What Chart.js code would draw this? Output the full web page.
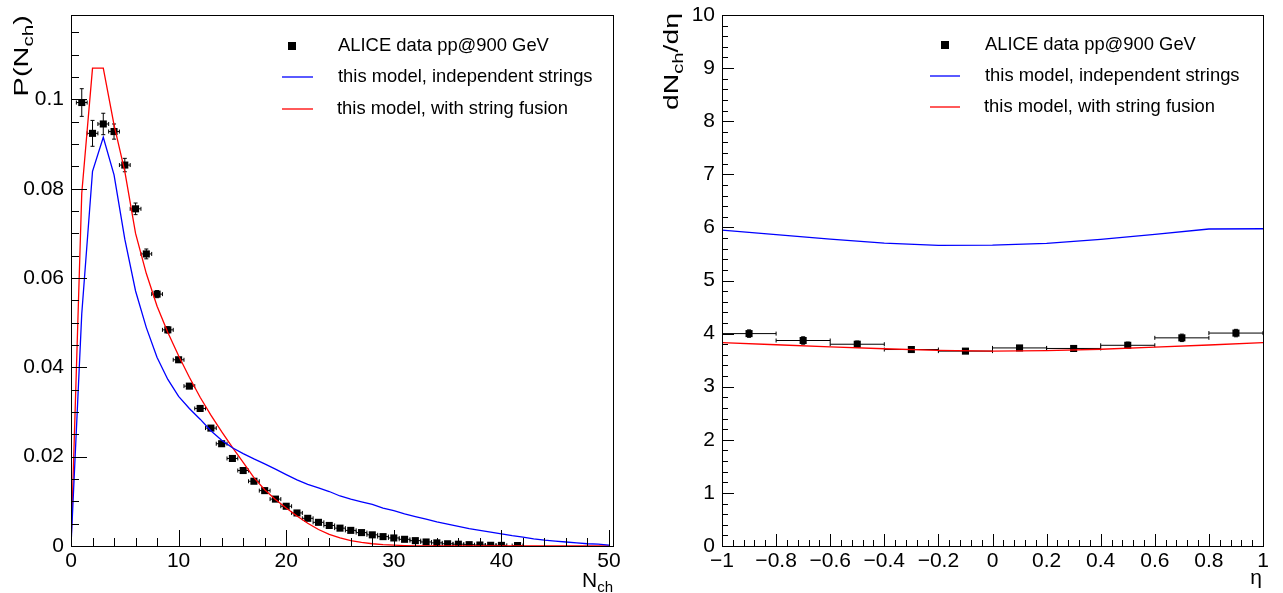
<!DOCTYPE html>
<html><head><meta charset="utf-8">
<script src="https://cdn.jsdelivr.net/npm/chart.js@4.4.1/dist/chart.umd.min.js"></script>
<style>
html,body{margin:0;padding:0;background:#fff;overflow:hidden;}
#cl{position:absolute;left:0;top:0;}
#cr{position:absolute;left:641px;top:0;}
</style></head><body>
<canvas id="cl" width="641" height="593"></canvas>
<canvas id="cr" width="642" height="593"></canvas>
<script>
const FONT = '"Liberation Sans", Arial, Helvetica, sans-serif';

// ---------- Left panel: multiplicity distribution ----------
const multN = [1,2,3,4,5,6,7,8,9,10,11,12,13,14,15,16,17,18,19,20,21,22,23,24,25,26,27,28,29,30,31,32,33,34,35,36,37,38,39,40,41.5];
const multP = [0.0993,0.0924,0.0945,0.0928,0.0853,0.0755,0.0654,0.0564,0.0484,0.0417,0.0358,0.0308,0.0264,0.0229,0.0196,0.0169,0.0145,0.0124,0.0105,0.0089,0.0074,0.0062,0.0053,0.0046,0.0040,0.0035,0.0030,0.0025,0.0021,0.0018,0.0015,0.0012,0.0009,0.0007,0.0005,0.0004,0.0003,0.00022,0.00016,0.00014,0.0001];
const multErrY = [0.0031,0.0029,0.0024,0.0017,0.0015,0.0013,0.0011,0.0008,0.0007,0.0006,0.0005,0.0005,0.0004,0.0004,0.0003,0.0003,0.0003,0.0003,0.0002,0.0002,0.0002,0.0002,0.0002,0.0002,0.0002,0.0002,0.0001,0.0001,0.0001,0.0001,0.0001,0.0001,0.0001,0.0001,0.0001,0.0001,0.0001,0.0001,0.0001,0.0001,0.0001];
const multErrX = [0.5,0.5,0.5,0.5,0.5,0.5,0.5,0.5,0.5,0.5,0.5,0.5,0.5,0.5,0.5,0.5,0.5,0.5,0.5,0.5,0.5,0.5,0.5,0.5,0.5,0.5,0.5,0.5,0.5,0.5,0.5,0.5,0.5,0.5,0.5,0.5,0.5,0.5,0.5,0.5,0.5];

const modelN = [0,1,2,3,4,5,6,7,8,9,10,11,12,13,14,15,16,17,18,19,20,21,22,23,24,25,26,27,28,29,30,31,32,33,34,35,36,37,38,39,40,41,42,43,44,45,46,47,48,49,50];
const indepP = [0,0.052,0.0839,0.0915,0.0831,0.0687,0.0571,0.0489,0.0422,0.0373,0.0335,0.0308,0.0284,0.0258,0.0237,0.0220,0.0207,0.0195,0.0184,0.0172,0.0160,0.0148,0.0138,0.0130,0.0122,0.0112,0.0105,0.0099,0.0093,0.0085,0.0079,0.0072,0.0066,0.0060,0.0054,0.0049,0.0044,0.0039,0.0035,0.0031,0.0027,0.0023,0.0020,0.0016,0.0013,0.0011,0.0009,0.0007,0.0005,0.0004,0.0002];
const fusionP = [0,0.079,0.107,0.107,0.0943,0.0839,0.0700,0.0610,0.0537,0.0478,0.0426,0.0378,0.0333,0.0293,0.0256,0.0221,0.0187,0.0153,0.0126,0.0104,0.0085,0.0067,0.0051,0.0037,0.0026,0.0018,0.0012,0.0008,0.0005,0.0003,0.0002,0.0001,0.00005,0,0,0,0,0,0,0,0,0,0,0,0,0,0,0,0,0,0];

const leftXTicks = [0,10,20,30,40,50];
const leftXLabels = ['0','10','20','30','40','50'];
const leftYTicks = [0,0.02,0.04,0.06,0.08,0.1];
const leftYLabels = ['0','0.02','0.04','0.06','0.08','0.1'];

// ---------- Right panel: pseudorapidity density ----------
const etaPts = [-0.9,-0.7,-0.5,-0.3,-0.1,0.1,0.3,0.5,0.7,0.9];
const dndeta = [4.00,3.87,3.80,3.70,3.67,3.73,3.72,3.78,3.92,4.01];
const dndetaErrY = [0.07,0.07,0.06,0.05,0.05,0.05,0.05,0.06,0.07,0.07];
const etaErrX = [0.1,0.1,0.1,0.1,0.1,0.1,0.1,0.1,0.1,0.1];

const modelEta = [-1,-0.8,-0.6,-0.4,-0.2,0,0.2,0.4,0.6,0.8,1];
const indepEta = [5.95,5.865,5.78,5.705,5.66,5.665,5.70,5.775,5.87,5.97,5.975];
const fusionEta = [3.83,3.79,3.75,3.715,3.685,3.67,3.68,3.705,3.745,3.785,3.83];

const rightXTicks = [-1,-0.8,-0.6,-0.4,-0.2,0,0.2,0.4,0.6,0.8,1];
const rightXLabels = ['\u22121','\u22120.8','\u22120.6','\u22120.4','\u22120.2','0','0.2','0.4','0.6','0.8','1'];
const rightYTicks = [0,1,2,3,4,5,6,7,8,9,10];
const rightYLabels = ['0','1','2','3','4','5','6','7','8','9','10'];

const legendLabels = ['ALICE data pp@900 GeV','this model, independent strings','this model, with string fusion'];

function pts(xs, ys){ return xs.map((x,i)=>({x:x, y:ys[i]})); }

const rootPlugin = {
  id: 'rootdeco',
  beforeDatasetsDraw(chart) {
    const ctx = chart.ctx, xs = chart.scales.x, ys = chart.scales.y, a = chart.chartArea;
    ctx.save();
    ctx.beginPath(); ctx.rect(a.left, a.top, a.right-a.left, a.bottom-a.top); ctx.clip();
    ctx.strokeStyle = '#000'; ctx.lineWidth = 1;
    chart.data.datasets.forEach(ds => {
      if (!ds.errY) return;
      ds.data.forEach((p, i) => {
        const px = xs.getPixelForValue(p.x), py = ys.getPixelForValue(p.y);
        const x1 = xs.getPixelForValue(p.x - ds.errX[i]), x2 = xs.getPixelForValue(p.x + ds.errX[i]);
        const y1 = ys.getPixelForValue(p.y - ds.errY[i]), y2 = ys.getPixelForValue(p.y + ds.errY[i]);
        ctx.beginPath();
        ctx.moveTo(x1, py); ctx.lineTo(x2, py);
        ctx.moveTo(x1, py-2); ctx.lineTo(x1, py+2);
        ctx.moveTo(x2, py-2); ctx.lineTo(x2, py+2);
        ctx.moveTo(px, y1); ctx.lineTo(px, y2);
        if (Math.abs(y1-y2) > 6) {
          ctx.moveTo(px-2, y1); ctx.lineTo(px+2, y1);
          ctx.moveTo(px-2, y2); ctx.lineTo(px+2, y2);
        }
        ctx.stroke();
      });
    });
    ctx.restore();
  },
  afterDraw(chart) {
    const c = chart.options.plugins.rootdeco;
    const ctx = chart.ctx, xs = chart.scales.x, ys = chart.scales.y, a = chart.chartArea;
    ctx.save();
    ctx.strokeStyle = '#000'; ctx.lineWidth = 1;
    // frame
    ctx.strokeRect(Math.round(a.left)+0.5, Math.round(a.top)+0.5, Math.round(a.right-a.left), Math.round(a.bottom-a.top));
    // ticks
    ctx.beginPath();
    const isMajor = (v, m) => Math.abs(v/m - Math.round(v/m)) < 1e-6;
    for (let k = Math.ceil(xs.min/c.xMinor - 1e-9); k*c.xMinor <= xs.max + 1e-9; k++) {
      const v = k*c.xMinor, px = Math.round(xs.getPixelForValue(v)) + 0.5;
      const len = isMajor(v, c.xMajor) ? c.majLen : c.minLen;
      ctx.moveTo(px, a.bottom); ctx.lineTo(px, a.bottom - len);
    }
    for (let k = Math.ceil(ys.min/c.yMinor - 1e-9); k*c.yMinor <= ys.max + 1e-9; k++) {
      const v = k*c.yMinor, py = Math.round(ys.getPixelForValue(v)) + 0.5;
      const len = isMajor(v, c.yMajor) ? c.majLen : c.minLen;
      ctx.moveTo(a.left, py); ctx.lineTo(a.left + len, py);
    }
    ctx.stroke();
    // legend
    ctx.fillStyle = '#000';
    ctx.textBaseline = 'middle'; ctx.textAlign = 'left';
    ctx.font = '18.4px ' + FONT;
    const L = c.legend;
    ctx.fillRect(L.mx - 4, L.y0 - 4, 8, 8);
    ctx.fillText(legendLabels[0], L.tx, L.y0);
    ctx.lineWidth = 1.3;
    ctx.strokeStyle = '#0000ff';
    ctx.beginPath(); ctx.moveTo(L.l1, L.y1); ctx.lineTo(L.l2, L.y1); ctx.stroke();
    ctx.fillText(legendLabels[1], L.tx, L.y1);
    ctx.strokeStyle = '#ff0000';
    ctx.beginPath(); ctx.moveTo(L.l1, L.y2); ctx.lineTo(L.l2, L.y2); ctx.stroke();
    ctx.fillText(legendLabels[2], L.tx - 1, L.y2);
    // x title (right aligned)
    const T = c.titles;
    ctx.textBaseline = 'alphabetic';
    ctx.font = T.big + 'px ' + FONT;
    const wMain = ctx.measureText(T.xMain).width;
    ctx.font = T.small + 'px ' + FONT;
    const wSub = T.xSub ? ctx.measureText(T.xSub).width : 0;
    const sx = T.xRight - wMain - wSub;
    ctx.font = T.big + 'px ' + FONT;
    ctx.fillText(T.xMain, sx, T.xBase);
    if (T.xSub) { ctx.font = T.small + 'px ' + FONT; ctx.fillText(T.xSub, sx + wMain, T.xBase + T.subShift); }
    // y title rotated, right aligned to top, stretched along its length
    ctx.save();
    ctx.translate(T.yBase, T.yTop);
    ctx.rotate(-Math.PI/2);
    ctx.scale(T.stretch, 1);
    ctx.font = T.big + 'px ' + FONT; const w1 = ctx.measureText(T.y1).width; const w3 = ctx.measureText(T.y3).width;
    ctx.font = T.small + 'px ' + FONT; const w2 = ctx.measureText(T.y2).width;
    const tot = w1 + w2 + w3;
    ctx.font = T.big + 'px ' + FONT; ctx.fillText(T.y1, -tot, 0); ctx.fillText(T.y3, -w3, 0);
    ctx.font = T.small + 'px ' + FONT; ctx.fillText(T.y2, -tot + w1, T.subShift);
    ctx.restore();
    ctx.restore();
  }
};

function makeChart(id, cfg) {
  return new Chart(document.getElementById(id), {
    type: 'scatter',
    data: { datasets: cfg.datasets },
    options: {
      responsive: false, animation: false, devicePixelRatio: 1,
      layout: { padding: { left: 0, top: 15, right: cfg.padRight, bottom: 0 } },
      plugins: { legend: { display: false }, tooltip: { enabled: false }, rootdeco: cfg.deco },
      scales: {
        x: {
          type: 'linear', min: cfg.xMin, max: cfg.xMax,
          grid: { display: false, drawTicks: false }, border: { display: false },
          ticks: { color: '#000', font: { family: FONT, size: 21 }, padding: 3, maxRotation: 0, minRotation: 0, autoSkip: false,
                   callback: (v, i) => cfg.xLabels[i] },
          afterBuildTicks: s => { s.ticks = cfg.xTicks.map(v => ({ value: v })); },
          afterFit: s => { s.height = 47; s.paddingLeft = 0; s.paddingRight = 0; }
        },
        y: {
          type: 'linear', min: cfg.yMin, max: cfg.yMax,
          grid: { display: false, drawTicks: false }, border: { display: false },
          ticks: { color: '#000', font: { family: FONT, size: 21 }, padding: 7, autoSkip: false,
                   callback: (v, i) => cfg.yLabels[i] },
          afterBuildTicks: s => { s.ticks = cfg.yTicks.map(v => ({ value: v })); },
          afterFit: s => { s.width = cfg.yWidth; s.paddingTop = 0; s.paddingBottom = 0; }
        }
      }
    },
    plugins: [rootPlugin]
  });
}

const dataStyle = { showLine: false, pointStyle: 'rect', pointRadius: 5, pointHoverRadius: 5, backgroundColor: '#000', borderColor: '#000', borderWidth: 0 };
const lineStyle = (col) => ({ showLine: true, pointRadius: 0, borderColor: col, backgroundColor: col, borderWidth: 1.3, tension: 0, fill: false });

makeChart('cl', {
  xMin: 0, xMax: 50.37, yMin: 0, yMax: 0.1189, padRight: 28, yWidth: 71,
  xTicks: leftXTicks, xLabels: leftXLabels, yTicks: leftYTicks, yLabels: leftYLabels,
  datasets: [
    Object.assign({ label: legendLabels[1], data: pts(modelN, indepP) }, lineStyle('#0000ff')),
    Object.assign({ label: legendLabels[2], data: pts(modelN, fusionP) }, lineStyle('#ff0000')),
    Object.assign({ label: legendLabels[0], data: pts(multN, multP), errX: multErrX, errY: multErrY }, dataStyle)
  ],
  deco: {
    xMinor: 2, xMajor: 10, yMinor: 0.005, yMajor: 0.02, majLen: 16, minLen: 8,
    legend: { mx: 292, tx: 338, y0: 46, y1: 77, y2: 109, l1: 282, l2: 313 },
    titles: { big: 21, small: 15, subShift: 5, stretch: 1.38, xMain: 'N', xSub: 'ch', xRight: 613, xBase: 587,
              y1: 'P(N', y2: 'ch', y3: ')', yBase: 28, yTop: 15 }
  }
});

makeChart('cr', {
  xMin: -1, xMax: 1, yMin: 0, yMax: 10, padRight: 20, yWidth: 81,
  xTicks: rightXTicks, xLabels: rightXLabels, yTicks: rightYTicks, yLabels: rightYLabels,
  datasets: [
    Object.assign({ label: legendLabels[1], data: pts(modelEta, indepEta) }, lineStyle('#0000ff')),
    Object.assign({ label: legendLabels[2], data: pts(modelEta, fusionEta) }, lineStyle('#ff0000')),
    Object.assign({ label: legendLabels[0], data: pts(etaPts, dndeta), errX: etaErrX, errY: dndetaErrY }, dataStyle)
  ],
  deco: {
    xMinor: 0.04, xMajor: 0.2, yMinor: 0.2, yMajor: 1, majLen: 12, minLen: 6,
    legend: { mx: 304, tx: 344, y0: 45, y1: 76, y2: 107, l1: 289, l2: 319 },
    titles: { big: 21, small: 15, subShift: 5, stretch: 1.35, xMain: '\u03b7', xSub: '', xRight: 621, xBase: 584,
              y1: 'dN', y2: 'ch', y3: '/d\u03b7', yBase: 37, yTop: 13 }
  }
});
</script>
</body></html>
